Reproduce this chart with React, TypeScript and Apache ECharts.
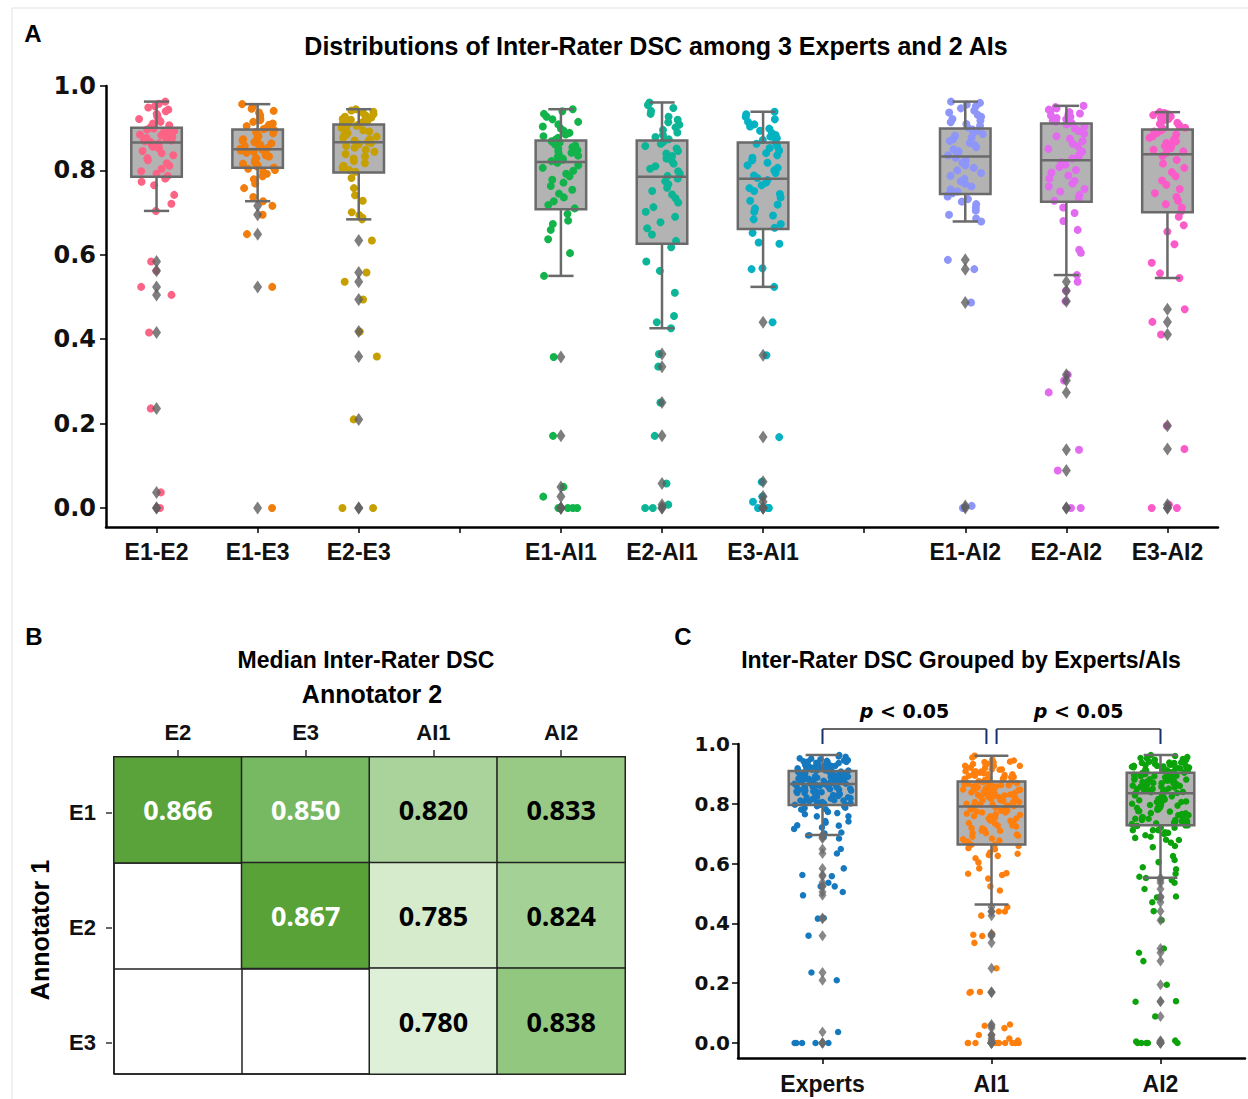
import React, { useEffect, useRef } from "react";
import * as echarts from "echarts";

// ---------- Panel A data ----------
const pairSlots = ["E1-E2", "E1-E3", "E2-E3", "", "E1-AI1", "E2-AI1", "E3-AI1", "", "E1-AI2", "E2-AI2", "E3-AI2"];
const pairSlotIndex = [0, 1, 2, 4, 5, 6, 8, 9, 10];
const pairColors = ["#fb6485", "#f07d0c", "#c6a000", "#13b34c", "#0db597", "#06b2c2", "#8e96f9", "#e26bf0", "#fb5bc8"];
const yTicksA = [0, 0.2, 0.4, 0.6, 0.8, 1.0];

const dscE1E2 = [0.963, 0.958, 0.952, 0.949, 0.944, 0.94, 0.934, 0.93, 0.927, 0.922, 0.918, 0.915, 0.911, 0.907, 0.903,
  0.899, 0.897, 0.894, 0.893, 0.89, 0.887, 0.885, 0.883, 0.88, 0.877, 0.875, 0.873, 0.871, 0.869, 0.867,
  0.864, 0.86, 0.856, 0.852, 0.846, 0.841, 0.836, 0.829, 0.824, 0.817, 0.811, 0.804, 0.798, 0.792, 0.787,
  0.781, 0.773, 0.765, 0.742, 0.721, 0.704,
  0.584, 0.562, 0.524, 0.505, 0.416, 0.236, 0.037, 0.0, 0.0];
const dscE1E3 = [0.957, 0.951, 0.946, 0.941, 0.937, 0.931, 0.927, 0.922, 0.919, 0.915, 0.911, 0.908, 0.905, 0.901, 0.898,
  0.895, 0.891, 0.888, 0.884, 0.881, 0.877, 0.874, 0.871, 0.867, 0.864, 0.861, 0.858, 0.856, 0.853, 0.851,
  0.849, 0.847, 0.844, 0.842, 0.839, 0.836, 0.833, 0.829, 0.826, 0.822, 0.819, 0.816, 0.812, 0.809, 0.807,
  0.804, 0.801, 0.797, 0.792, 0.786, 0.779, 0.769, 0.758, 0.737, 0.727,
  0.716, 0.695, 0.649, 0.524, 0.0];
const dscE2E3 = [0.945, 0.942, 0.939, 0.936, 0.933, 0.93, 0.927, 0.925, 0.922, 0.92, 0.918, 0.916, 0.914, 0.912, 0.91,
  0.908, 0.906, 0.903, 0.901, 0.898, 0.895, 0.892, 0.889, 0.886, 0.883, 0.88, 0.877, 0.874, 0.871, 0.868,
  0.865, 0.862, 0.858, 0.854, 0.849, 0.844, 0.839, 0.833, 0.828, 0.822, 0.817, 0.811, 0.806, 0.801, 0.797,
  0.782, 0.758, 0.741, 0.728, 0.701, 0.694, 0.688, 0.684,
  0.634, 0.558, 0.536, 0.494, 0.418, 0.359, 0.21, 0.0, 0.0];
const dscE1AI1 = [0.945, 0.94, 0.934, 0.927, 0.921, 0.915, 0.909, 0.904, 0.899, 0.894, 0.889, 0.885, 0.881, 0.877, 0.873,
  0.869, 0.866, 0.862, 0.859, 0.855, 0.852, 0.848, 0.845, 0.842, 0.838, 0.835, 0.831, 0.828, 0.825, 0.822,
  0.818, 0.812, 0.806, 0.799, 0.792, 0.786, 0.778, 0.771, 0.763, 0.754, 0.745, 0.736, 0.727, 0.718, 0.71,
  0.697, 0.681, 0.673, 0.659, 0.637, 0.604, 0.55,
  0.358, 0.171, 0.05, 0.027, 0.0, 0.0, 0.0, 0.0];
const dscE2AI1 = [0.961, 0.955, 0.948, 0.941, 0.934, 0.927, 0.92, 0.914, 0.908, 0.902, 0.896, 0.89, 0.884, 0.879, 0.874,
  0.868, 0.863, 0.858, 0.852, 0.846, 0.84, 0.834, 0.828, 0.822, 0.816, 0.81, 0.804, 0.798, 0.792, 0.787,
  0.781, 0.774, 0.767, 0.759, 0.751, 0.743, 0.734, 0.724, 0.713, 0.702, 0.69, 0.677, 0.663, 0.648, 0.633,
  0.618, 0.584, 0.562, 0.51, 0.455, 0.44, 0.426,
  0.365, 0.335, 0.25, 0.171, 0.058, 0.008, 0.0, 0.0];
const dscE3AI1 = [0.939, 0.933, 0.927, 0.921, 0.915, 0.909, 0.904, 0.899, 0.894, 0.889, 0.884, 0.88, 0.876, 0.872, 0.868,
  0.863, 0.858, 0.853, 0.847, 0.841, 0.836, 0.83, 0.824, 0.818, 0.812, 0.806, 0.8, 0.794, 0.788, 0.782,
  0.777, 0.771, 0.765, 0.758, 0.751, 0.744, 0.736, 0.728, 0.719, 0.71, 0.702, 0.693, 0.684, 0.673, 0.664,
  0.652, 0.629, 0.626, 0.568, 0.566, 0.524,
  0.44, 0.362, 0.168, 0.062, 0.027, 0.015, 0.0, 0.0, 0.0, 0.0];
const dscE1AI2 = [0.963, 0.96, 0.956, 0.952, 0.947, 0.942, 0.937, 0.932, 0.927, 0.922, 0.918, 0.914, 0.91, 0.906, 0.902,
  0.897, 0.894, 0.89, 0.886, 0.882, 0.878, 0.874, 0.87, 0.865, 0.86, 0.855, 0.85, 0.845, 0.84, 0.836,
  0.83, 0.824, 0.818, 0.812, 0.806, 0.8, 0.794, 0.787, 0.78, 0.774, 0.768, 0.762, 0.755, 0.75, 0.746,
  0.742, 0.738, 0.732, 0.726, 0.72, 0.712, 0.705, 0.695, 0.686, 0.679,
  0.588, 0.566, 0.487, 0.005, 0.0];
const dscE2AI2 = [0.953, 0.95, 0.947, 0.944, 0.941, 0.938, 0.935, 0.932, 0.93, 0.927, 0.924, 0.921, 0.918, 0.915, 0.912,
  0.909, 0.904, 0.899, 0.893, 0.887, 0.881, 0.875, 0.869, 0.863, 0.857, 0.851, 0.845, 0.839, 0.833, 0.828,
  0.82, 0.814, 0.808, 0.801, 0.795, 0.788, 0.781, 0.775, 0.769, 0.762, 0.756, 0.75, 0.742, 0.735, 0.728,
  0.712, 0.699, 0.68, 0.659, 0.612, 0.605, 0.552,
  0.536, 0.515, 0.49, 0.316, 0.302, 0.274, 0.138, 0.089, 0.0, 0.0];
const dscE3AI2 = [0.938, 0.936, 0.933, 0.931, 0.928, 0.925, 0.922, 0.919, 0.916, 0.913, 0.91, 0.907, 0.904, 0.901, 0.899,
  0.895, 0.892, 0.889, 0.885, 0.881, 0.877, 0.873, 0.869, 0.865, 0.861, 0.857, 0.853, 0.849, 0.845, 0.841,
  0.834, 0.825, 0.816, 0.806, 0.796, 0.786, 0.776, 0.766, 0.756, 0.746, 0.737, 0.728, 0.72, 0.712, 0.703,
  0.69, 0.67, 0.655, 0.625, 0.581, 0.556, 0.545,
  0.471, 0.441, 0.411, 0.195, 0.14, 0.008, 0.0, 0.0];
const pairValues = [dscE1E2, dscE1E3, dscE2E3, dscE1AI1, dscE2AI1, dscE3AI1, dscE1AI2, dscE2AI2, dscE3AI2];

// box statistics [low whisker, Q1, median, Q3, high whisker]
const pairBoxes = [
  [0.704, 0.785, 0.866, 0.901, 0.963],
  [0.727, 0.806, 0.85, 0.897, 0.957],
  [0.684, 0.795, 0.867, 0.909, 0.945],
  [0.55, 0.708, 0.82, 0.871, 0.945],
  [0.426, 0.626, 0.785, 0.871, 0.961],
  [0.524, 0.661, 0.78, 0.866, 0.939],
  [0.679, 0.744, 0.833, 0.899, 0.963],
  [0.552, 0.726, 0.824, 0.911, 0.953],
  [0.545, 0.701, 0.838, 0.897, 0.938],
];

// ---------- Panel B data ----------
const annot2 = ["E2", "E3", "AI1", "AI2"];
const annot1 = ["E1", "E2", "E3"];
const medianRowE1 = [0.866, 0.85, 0.82, 0.833];
const medianRowE2 = [null, 0.867, 0.785, 0.824];
const medianRowE3 = [null, null, 0.78, 0.838];
const medianRows = [medianRowE1, medianRowE2, medianRowE3];
const heatColors = ["#dff0d8", "#cde7c3", "#c3e2b7", "#b8dcaa", "#aed69f", "#a5d196", "#99cb86", "#8fc57b", "#78b963", "#68ae4d", "#58a238"];

// ---------- Panel C data ----------
const groupNames = ["Experts", "AI1", "AI2"];
const groupColors = ["#1679bf", "#ff7f0e", "#0ca20c"];
const groupMembers = [[0, 1, 2], [3, 4, 5], [6, 7, 8]];
const groupBoxes = [
  [0.696, 0.796, 0.866, 0.91, 0.963],
  [0.463, 0.664, 0.791, 0.875, 0.961],
  [0.553, 0.728, 0.835, 0.904, 0.963],
];
const yTicksC = [0, 0.2, 0.4, 0.6, 0.8, 1.0];
const pFrom = [0, 1.03];
const pTo = [0.97, 2];
const pLabels = ["< 0.05", "< 0.05"];

const F_ARIAL = "'Liberation Sans', Arial, sans-serif";
const F_DEJAVU = "'DejaVu Sans', sans-serif";

const jit = (i: number, g: number) => {
  const s = Math.sin((i + 1) * 12.9898 + (g + 1) * 78.233) * 43758.5453;
  return s - Math.floor(s) - 0.5;
};

const makeBoxRender = (part: string, frac: number) => (params: any, api: any) => {
  const x = api.value(0);
  const p = [1, 2, 3, 4, 5].map((d) => api.coord([x, api.value(d)]));
  const cx = p[0][0];
  const bw = api.size([1, 0])[0] * frac;
  const top = p[3][1];
  const bot = p[1][1];
  if (part === "fill") {
    return { type: "rect", shape: { x: cx - bw / 2, y: top, width: bw, height: bot - top }, style: { fill: "#b3b3b3" } };
  }
  const st = { stroke: "#6a6a6a", lineWidth: 2.5, fill: "none" };
  return {
    type: "group",
    children: [
      { type: "line", shape: { x1: cx, y1: p[0][1], x2: cx, y2: bot }, style: st },
      { type: "line", shape: { x1: cx, y1: top, x2: cx, y2: p[4][1] }, style: st },
      { type: "line", shape: { x1: cx - bw / 4, y1: p[0][1], x2: cx + bw / 4, y2: p[0][1] }, style: st },
      { type: "line", shape: { x1: cx - bw / 4, y1: p[4][1], x2: cx + bw / 4, y2: p[4][1] }, style: st },
      { type: "rect", shape: { x: cx - bw / 2, y: top, width: bw, height: bot - top }, style: st },
      { type: "line", shape: { x1: cx - bw / 2, y1: p[2][1], x2: cx + bw / 2, y2: p[2][1] }, style: st },
    ],
  };
};

const txt = (text: string, x: number, y: number, size: number, extra: any = {}) => ({
  type: "text",
  x,
  y,
  rotation: extra.rotation || 0,
  style: {
    text,
    fontSize: size,
    fontWeight: "bold",
    fontFamily: F_ARIAL,
    fill: "#000",
    align: extra.align || "center",
    verticalAlign: "middle",
    textAlign: extra.align || "center",
    textVerticalAlign: "middle",
  },
});

function buildOption() {
  const series: any[] = [];
  // ----- Panel A -----
  const boxDataA = pairBoxes.map((b, g) => [pairSlotIndex[g], ...b]);
  series.push({ type: "custom", xAxisIndex: 0, yAxisIndex: 0, z: 2, renderItem: makeBoxRender("fill", 0.5), data: boxDataA, silent: true });
  pairValues.forEach((vals, g) => {
    series.push({
      type: "scatter", xAxisIndex: 1, yAxisIndex: 0, z: 3, symbolSize: 8, silent: true,
      itemStyle: { color: pairColors[g], opacity: 1 },
      data: vals.map((v, i) => [pairSlotIndex[g] + jit(i, g) * 0.36, v]),
    });
  });
  series.push({ type: "custom", xAxisIndex: 0, yAxisIndex: 0, z: 4, renderItem: makeBoxRender("lines", 0.5), data: boxDataA, silent: true });
  const outA: number[][] = [];
  pairValues.forEach((vals, g) => vals.forEach((v) => {
    if (v < pairBoxes[g][0] || v > pairBoxes[g][4]) outA.push([pairSlotIndex[g], v]);
  }));
  series.push({ type: "scatter", xAxisIndex: 1, yAxisIndex: 0, z: 5, symbol: "diamond", symbolSize: [9, 13], itemStyle: { color: "#5e5e5e" }, data: outA, silent: true });

  // ----- Panel B -----
  const heatData: any[] = [];
  medianRows.forEach((row, r) => row.forEach((v, c) => { if (v !== null) heatData.push([c, r, v]); }));
  const heatIndex = series.length;
  series.push({
    type: "heatmap", xAxisIndex: 2, yAxisIndex: 1, data: heatData, silent: true,
    itemStyle: { borderColor: "#222", borderWidth: 1.5 },
    label: {
      show: true,
      formatter: (p: any) => {
        const v = p.value[2];
        return v >= 0.845 ? `{w|${v.toFixed(3)}}` : `{k|${v.toFixed(3)}}`;
      },
      rich: {
        w: { color: "#fff", fontSize: 27, fontWeight: "bold", fontFamily: "'Open Sans', sans-serif" },
        k: { color: "#000", fontSize: 27, fontWeight: "bold", fontFamily: "'Open Sans', sans-serif" },
      },
    },
  });
  series.push({ type: "scatter", xAxisIndex: 3, yAxisIndex: 2, data: [] });

  // ----- Panel C -----
  const boxDataC = groupBoxes.map((b, k) => [k, ...b]);
  series.push({ type: "custom", xAxisIndex: 4, yAxisIndex: 3, z: 2, renderItem: makeBoxRender("fill", 0.4), data: boxDataC, silent: true });
  const groupValues = groupMembers.map((m) => m.flatMap((g) => pairValues[g]));
  groupValues.forEach((vals, k) => {
    series.push({
      type: "scatter", xAxisIndex: 5, yAxisIndex: 3, z: 3, symbolSize: 6.5, silent: true,
      itemStyle: { color: groupColors[k], opacity: 1 },
      data: vals.map((v, i) => [k + jit(i, k + 20) * 0.34, v]),
    });
  });
  series.push({ type: "custom", xAxisIndex: 4, yAxisIndex: 3, z: 4, renderItem: makeBoxRender("lines", 0.4), data: boxDataC, silent: true });
  const outC: number[][] = [];
  groupValues.forEach((vals, k) => vals.forEach((v) => {
    if (v < groupBoxes[k][0] || v > groupBoxes[k][4]) outC.push([k, v]);
  }));
  series.push({ type: "scatter", xAxisIndex: 5, yAxisIndex: 3, z: 5, symbol: "diamond", symbolSize: [8, 11], itemStyle: { color: "#6a6a6a" }, data: outC, silent: true });
  series.push({
    type: "custom", xAxisIndex: 5, yAxisIndex: 3, z: 6, clip: false, silent: true,
    data: pFrom.map((f, i) => [f, pTo[i], i]),
    renderItem: (params: any, api: any) => {
      const a = api.coord([api.value(0), 1.05]);
      const b = api.coord([api.value(1), 1.05]);
      const a0 = api.coord([api.value(0), 1.0]);
      const t = api.coord([(api.value(0) + api.value(1)) / 2, 1.11]);
      const lab = pLabels[api.value(2)];
      return {
        type: "group",
        children: [
          { type: "line", shape: { x1: a[0], y1: a[1], x2: b[0], y2: b[1] }, style: { stroke: "#666", lineWidth: 2 } },
          { type: "line", shape: { x1: a[0], y1: a[1], x2: a[0], y2: a0[1] }, style: { stroke: "#14306e", lineWidth: 2 } },
          { type: "line", shape: { x1: b[0], y1: b[1], x2: b[0], y2: a0[1] }, style: { stroke: "#14306e", lineWidth: 2 } },
          {
            type: "text", x: t[0], y: t[1],
            style: {
              text: `{i|p} ${lab}`, align: "center", verticalAlign: "middle", fill: "#000",
              fontSize: 19, fontWeight: "bold", fontFamily: F_DEJAVU,
              rich: { i: { fontStyle: "italic", fontWeight: "bold", fontSize: 19, fontFamily: F_DEJAVU, fill: "#000" } },
            },
          },
        ],
      };
    },
  });

  const blackLine = { show: true, onZero: false, lineStyle: { color: "#000", width: 2.5 } };
  const blackTick = (len: number) => ({ show: true, length: len, lineStyle: { color: "#000", width: 1.5 } });

  return {
    animation: false,
    backgroundColor: "#fff",
    grid: [
      { left: 106, top: 86, width: 1112, height: 441, outerBoundsMode: "none" },
      { left: 114, top: 757, width: 511, height: 317, show: true, borderColor: "#222", borderWidth: 1.5, backgroundColor: "transparent", outerBoundsMode: "none" },
      { left: 112, top: 755, width: 2, height: 345, outerBoundsMode: "none" },
      { left: 738, top: 744, width: 507, height: 314, outerBoundsMode: "none" },
    ],
    xAxis: [
      {
        type: "category", gridIndex: 0, data: pairSlots, boundaryGap: true,
        axisLine: blackLine, axisTick: { ...blackTick(6), alignWithLabel: true, interval: 0 },
        axisLabel: { interval: 0, margin: 13, fontFamily: F_ARIAL, fontWeight: "bold", fontSize: 23, color: "#111" },
        splitLine: { show: false },
      },
      { type: "value", gridIndex: 0, min: -0.5, max: 10.5, show: false },
      {
        type: "category", gridIndex: 1, position: "top", data: annot2,
        axisLine: { show: false, onZero: false },
        axisTick: { show: true, alignWithLabel: true, length: 7, interval: 0, lineStyle: { color: "#333", width: 1.5 } },
        axisLabel: { interval: 0, margin: 14, fontFamily: F_ARIAL, fontWeight: "bold", fontSize: 22, color: "#111" },
        splitLine: { show: true, interval: 0, lineStyle: { color: "#222", width: 1.5 } },
      },
      { type: "value", gridIndex: 2, min: 0, max: 1, show: false },
      {
        type: "category", gridIndex: 3, data: groupNames,
        axisLine: blackLine, axisTick: { ...blackTick(6), alignWithLabel: true, interval: 0 },
        axisLabel: { interval: 0, margin: 14, fontFamily: F_ARIAL, fontWeight: "bold", fontSize: 23, color: "#111" },
        splitLine: { show: false },
      },
      { type: "value", gridIndex: 3, min: -0.5, max: 2.5, show: false },
    ],
    yAxis: [
      {
        type: "value", gridIndex: 0, min: -0.045, max: 1.0,
        axisLine: blackLine, axisTick: { ...blackTick(6), customValues: yTicksA },
        axisLabel: { customValues: yTicksA, formatter: (v: number) => v.toFixed(1), margin: 10, fontFamily: F_DEJAVU, fontWeight: "bold", fontSize: 24, color: "#111" },
        splitLine: { show: false },
      },
      {
        type: "category", gridIndex: 1, inverse: true, data: annot1,
        axisLine: { show: false, onZero: false }, axisTick: { show: false }, axisLabel: { show: false },
        splitLine: { show: true, interval: 0, lineStyle: { color: "#222", width: 1.5 } },
      },
      {
        type: "category", gridIndex: 2, inverse: true, data: annot1,
        axisLine: { show: false, onZero: false },
        axisTick: { show: true, alignWithLabel: true, length: 6, interval: 0, lineStyle: { color: "#333", width: 1.5 } },
        axisLabel: { interval: 0, margin: 16, fontFamily: F_ARIAL, fontWeight: "bold", fontSize: 22, color: "#111" },
        splitLine: { show: false },
      },
      {
        type: "value", gridIndex: 3, min: -0.05, max: 1.0,
        axisLine: blackLine, axisTick: { ...blackTick(6), customValues: yTicksC },
        axisLabel: { customValues: yTicksC, formatter: (v: number) => v.toFixed(1), margin: 8, fontFamily: F_DEJAVU, fontWeight: "bold", fontSize: 20, color: "#111" },
        splitLine: { show: false },
      },
    ],
    visualMap: {
      type: "continuous", show: false, seriesIndex: heatIndex, dimension: 2,
      min: 0.78, max: 0.867, inRange: { color: heatColors },
    },
    graphic: [
      { type: "rect", shape: { x: 12, y: 8, width: 1300, height: 1200 }, style: { fill: "none", stroke: "#e2e2e2", lineWidth: 1 }, silent: true },
      txt("A", 33, 33, 24),
      txt("Distributions of Inter-Rater DSC among 3 Experts and 2 AIs", 656, 46, 25),
      txt("B", 34, 636, 24),
      txt("Median Inter-Rater DSC", 366, 660, 23),
      txt("Annotator 2", 372, 694, 25),
      txt("Annotator 1", 40, 930, 25, { rotation: Math.PI / 2 }),
      txt("C", 683, 636, 24),
      txt("Inter-Rater DSC Grouped by Experts/AIs", 961, 660, 23),
    ],
    series,
  };
}

export default function App() {
  const ref = useRef<HTMLDivElement>(null);
  useEffect(() => {
    document.body.style.margin = "0";
    const chart = echarts.init(ref.current as HTMLDivElement, null, { renderer: "svg" });
    chart.setOption(buildOption() as any);
    return () => chart.dispose();
  }, []);
  return <div ref={ref} style={{ width: 1248, height: 1099 }} />;
}
